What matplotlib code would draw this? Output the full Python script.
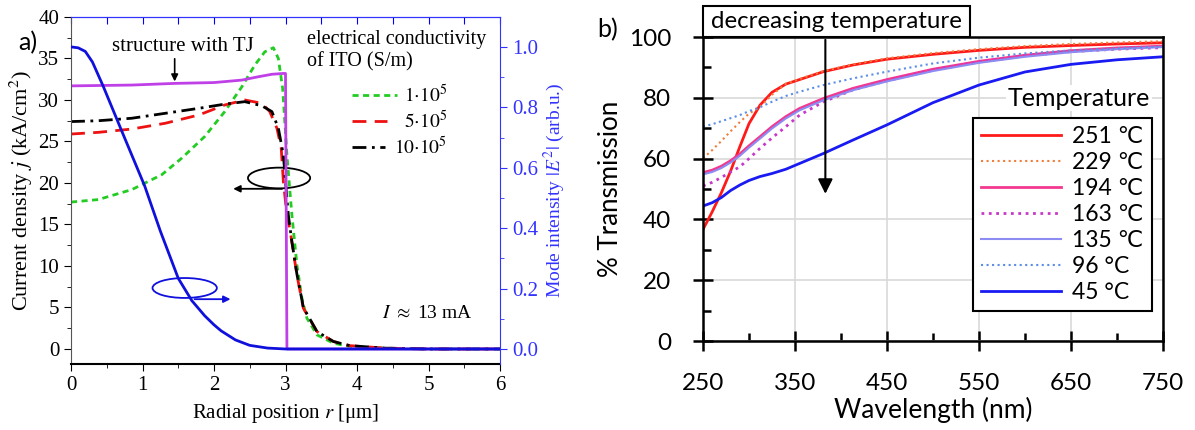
import numpy as np
import matplotlib
matplotlib.use("Agg")
import matplotlib.pyplot as plt
from matplotlib.patches import Ellipse, Rectangle

plt.rcParams['mathtext.fontset'] = 'stix'

# ---- panel a) data: current density vs radial position ----
r_green = [0, 0.38, 0.85, 1.27, 1.55, 1.87, 2.15, 2.39, 2.57, 2.71, 2.83, 2.9, 2.96,
           2.99, 3.02, 3.05, 3.09, 3.16, 3.23, 3.3, 3.44, 3.67, 3.9, 4.37, 5.0, 6.0]
j_green = [17.7, 18.0, 19.2, 21.0, 23.0, 25.6, 28.6, 31.6, 34.2, 35.8, 36.3, 35.0, 31.4,
           27.4, 23.4, 20.2, 16.1, 10.1, 6.1, 3.7, 1.7, 0.7, 0.3, 0.1, 0.0, 0.0]

r_red = [0, 0.38, 0.85, 1.32, 1.79, 2.15, 2.43, 2.67, 2.78, 2.88, 2.94, 2.97, 3.02,
         3.06, 3.16, 3.25, 3.44, 3.67, 3.9, 4.4, 5.0, 6.0]
j_red = [25.9, 26.1, 26.5, 27.2, 28.2, 29.4, 30.0, 29.6, 28.6, 26.6, 24.2, 20.2, 16.1,
         14.5, 8.9, 4.9, 2.1, 0.9, 0.4, 0.1, 0.0, 0.0]

r_black = [0, 0.38, 0.85, 1.32, 1.79, 2.15, 2.43, 2.67, 2.81, 2.9, 2.97, 3.0, 3.04,
           3.09, 3.16, 3.25, 3.44, 3.67, 3.9, 4.4, 5.0, 6.0]
j_black = [27.4, 27.5, 27.8, 28.4, 29.0, 29.5, 29.8, 29.3, 28.6, 26.6, 23.4, 20.2, 16.1,
           12.9, 9.0, 5.0, 2.1, 0.9, 0.4, 0.1, 0.0, 0.0]

r_tj = [0, 0.85, 1.45, 2.0, 2.39, 2.62, 2.81, 2.97, 3.0, 3.02, 6.0]
j_tj = [31.7, 31.8, 32.0, 32.1, 32.4, 32.8, 33.1, 33.2, 33.2, 0.0, 0.0]

r_mode = [0, 0.1, 0.2, 0.3, 0.45, 0.66, 0.73, 1.03, 1.25, 1.5, 1.69, 1.87, 2.0, 2.1,
          2.3, 2.5, 2.75, 3.0, 6.0]
mode = [1.0, 0.997, 0.985, 0.95, 0.87, 0.75, 0.71, 0.54, 0.39, 0.234, 0.16, 0.11, 0.08,
        0.06, 0.03, 0.012, 0.003, 0.0, 0.0]

cond_labels = [r'$1{\cdot}10^5$', r'$5{\cdot}10^5$', r'$10{\cdot}10^5$']

# ---- panel b) data: transmission vs wavelength ----
wl = [250, 260, 270, 280, 290, 300, 312, 325, 340, 355, 381, 413, 450, 500, 550, 600,
      650, 700, 750]
t251 = [36.7, 42.5, 48.8, 55.9, 63.9, 71.5, 77.6, 81.8, 84.5, 86.0, 88.6, 90.8, 92.7,
        94.3, 95.6, 96.6, 97.2, 97.7, 98.1]
t229 = [60.1, 62.8, 65.8, 69.0, 72.0, 74.8, 77.0, 81.0, 84.6, 86.2, 88.8, 91.0, 93.0,
        94.7, 96.0, 97.0, 97.7, 98.2, 98.6]
t194 = [55.4, 56.2, 57.5, 59.3, 61.5, 64.2, 67.2, 70.5, 73.8, 76.5, 79.8, 83.1, 86.0,
        89.4, 92.0, 94.0, 95.5, 96.4, 97.0]
t163 = [51.0, 52.2, 53.8, 55.6, 57.3, 60.0, 63.4, 66.8, 70.5, 74.3, 78.7, 82.6, 85.6,
        89.1, 91.8, 93.8, 95.2, 96.0, 96.5]
t135 = [54.8, 55.6, 56.9, 58.7, 60.9, 63.6, 66.6, 69.9, 73.2, 75.9, 79.2, 82.5, 85.4,
        88.8, 91.5, 93.5, 95.0, 96.0, 96.7]
t96 = [70.5, 71.3, 72.3, 73.3, 74.3, 75.6, 76.9, 78.7, 80.6, 82.0, 84.2, 86.4, 88.6,
       91.3, 93.2, 94.6, 95.6, 96.3, 96.9]
t45 = [44.4, 45.5, 47.2, 49.5, 51.3, 52.8, 54.1, 55.1, 56.5, 58.4, 61.7, 66.1, 71.1,
       78.4, 84.2, 88.5, 91.0, 92.5, 93.5]
temp_labels = ['251 \u2103', '229 \u2103', '194 \u2103', '163 \u2103', '135 \u2103',
               '96 \u00b0C', '45 \u00b0C']

fig = plt.figure(figsize=(11.95, 4.3), dpi=100)

# ================= panel a =================
serif = 'Liberation Serif'
green_ls = (0, (2.2, 1.6))
red_ls = (0, (5, 3))
black_ls = (0, (5, 2, 1, 2))

ax = fig.add_axes([71 / 1195, 1 - 364 / 430, 429 / 1195, 347 / 430])
ax.plot(r_green, j_green, color='#22cc22', lw=2, ls=green_ls)
ax.plot(r_red, j_red, color='#ee1111', lw=2, ls=red_ls)
ax.plot(r_black, j_black, color='black', lw=2, ls=black_ls)
ax.plot(r_tj, j_tj, color='#c040e8', lw=2)
ax.set_xlim(0, 6)
ax.set_ylim(-1.81, 40)
ax.set_xticks(range(7))
ax.set_xticks(np.arange(0, 6.01, 0.5), minor=True)
ax.set_yticks(range(0, 41, 5))
ax.set_yticks(np.arange(0, 40.1, 2.5), minor=True)
ax.tick_params(which='both', direction='out', top=False, right=False,
               labelsize=15, labelfontfamily=serif)
ax.tick_params(which='major', length=5)
ax.tick_params(which='minor', length=3)
ax.spines['left'].set_color('#555555')
ax.spines['bottom'].set_linewidth(1.5)
ax.spines['top'].set_visible(False)
ax.spines['right'].set_visible(False)
ax.set_xlabel('Radial position $r$ [\u03bcm]', fontsize=15, family=serif, labelpad=5)
ax.set_ylabel('Current density $j$ (kA/cm$^2$)', fontsize=16, family=serif, labelpad=2)

top = ax.secondary_xaxis('top')
top.set_xticks(np.arange(0, 6.01, 0.5))
top.tick_params(direction='in', length=5, colors='blue', labeltop=False)
top.spines['top'].set_color('blue')

ax2 = ax.twinx()
ax2.plot(r_mode, mode, color='#1010dd', lw=2)
ax2.set_ylim(-0.0497, 1.099)
ax2.set_yticks(np.arange(0, 1.01, 0.2))
ax2.set_yticks(np.arange(0, 1.01, 0.1), minor=True)
ax2.yaxis.set_major_formatter(matplotlib.ticker.FormatStrFormatter('%.1f'))
ax2.tick_params(which='both', colors='#3333ff', labelsize=15, labelfontfamily=serif)
ax2.tick_params(which='major', length=5)
ax2.tick_params(which='minor', length=3)
for s in ['right', 'top']:
    ax2.spines[s].set_color('#3333ff')
ax2.spines['left'].set_visible(False)
ax2.spines['bottom'].set_visible(False)
ax2.set_ylabel('Mode intensity $|E^2|$ (arb.u.)', color='#3333ff', fontsize=14,
               family=serif, labelpad=3)

# annotations
ax.text(1.57, 36.4, 'structure with TJ', fontsize=15, family=serif, ha='center',
        va='center')
ax.annotate('', xy=(1.45, 31.9), xytext=(1.45, 35.3),
            arrowprops=dict(arrowstyle='-|>', color='black', lw=1.2,
                            mutation_scale=10))
ax.add_patch(Ellipse((2.91, 20.6), 0.87, 2.5, fill=False, ec='black', lw=1.3))
ax.annotate('', xy=(2.23, 19.3), xytext=(2.99, 19.3),
            arrowprops=dict(arrowstyle='-|>', color='black', lw=1.3,
                            mutation_scale=10))
ax.add_patch(Ellipse((1.59, 7.35), 0.9, 2.4, fill=False, ec='#1010dd', lw=1.3))
ax.annotate('', xy=(2.27, 6.0), xytext=(1.69, 6.0),
            arrowprops=dict(arrowstyle='-|>', color='#1010dd', lw=1.3,
                            mutation_scale=10))
ax.text(3.3, 35.9, 'electrical conductivity\nof ITO (S/m)', fontsize=14.5,
        family=serif, ha='left', va='center', linespacing=1.2)
ax.text(4.35, 4.3, r'$I\ \approx$ 13 mA', fontsize=14, family=serif, ha='left',
        va='center')

# legend for the conductivity curves (handles left, labels right-aligned)
leg_styles = [('#22cc22', green_ls, 0.760, 0.775),
              ('#ee1111', red_ls, 0.737, 0.700),
              ('black', black_ls, 0.732, 0.625)]
for (c, ls, xe, yy), lab in zip(leg_styles, cond_labels):
    ax.plot([0.655, xe], [yy, yy], color=c, lw=2, ls=ls, transform=ax.transAxes)
    ax.text(0.876, yy, lab, transform=ax.transAxes, fontsize=14, family=serif,
            ha='right', va='center')

fig.text(0.015, 0.9, 'a)', fontsize=18, family='Lato', va='center')

# ================= panel b =================
sans = ['Lato', 'DejaVu Sans']
bx = fig.add_axes([703 / 1195, 1 - 341 / 430, 460 / 1195, 304 / 430])
bx.plot(wl, t251, color='#ff1a1a', lw=2, label=temp_labels[0])
bx.plot(wl, t229, color='#f07d3a', lw=1.5, ls=':', label=temp_labels[1])
bx.plot(wl, t194, color='#f2388f', lw=2, label=temp_labels[2])
bx.plot(wl, t163, color='#c838c8', lw=2, ls=':', label=temp_labels[3])
bx.plot(wl, t135, color='#8c8cf2', lw=1.5, label=temp_labels[4])
bx.plot(wl, t96, color='#5b8ee6', lw=1.5, ls=':', label=temp_labels[5])
bx.plot(wl, t45, color='#1a1af2', lw=2, label=temp_labels[6])
bx.set_xlim(250, 750)
bx.set_ylim(0, 100)
bx.set_xticks(range(250, 751, 100))
bx.set_xticks(range(300, 751, 100), minor=True)
bx.set_yticks(range(0, 101, 20))
bx.set_yticks(range(10, 100, 20), minor=True)
bx.grid(True, which='major', color='#d9d9d9', lw=1.2)
bx.set_axisbelow(True)
for s in bx.spines.values():
    s.set_linewidth(1.8)
bx.tick_params(which='major', direction='inout', length=14, width=1.8,
               labelsize=17.5, labelfontfamily='Lato')
bx.tick_params(axis='x', which='major', pad=16)
bx.tick_params(axis='y', which='major', pad=16)
bx.tick_params(which='minor', direction='in', length=6, width=1.8)
bx.set_xlabel('Wavelength (nm)', fontsize=19, family=sans, labelpad=2)
bx.set_ylabel('% Transmission', fontsize=18.6, family=sans, labelpad=4)

bx.add_patch(Rectangle((250, 100), 290, 10.2, fill=False, ec='black', lw=1.5,
                       clip_on=False))
bx.text(395, 105.1, 'decreasing temperature', fontsize=17.3, family=sans,
        ha='center', va='center')
bx.annotate('', xy=(383, 47.5), xytext=(383, 100),
            arrowprops=dict(arrowstyle='-|>', color='black', lw=1.5,
                            mutation_scale=22))

bx.text(0.972, 0.799, 'Temperature', transform=bx.transAxes, fontsize=18,
        family=sans, ha='right', va='center',
        bbox=dict(fc='white', ec='none', pad=1))
leg = bx.legend(loc='upper right', bbox_to_anchor=(0.976, 0.734), borderaxespad=0,
                prop={'family': sans, 'size': 16.5}, handlelength=3.5,
                handletextpad=0.48, labelspacing=0.22, borderpad=0.35,
                fancybox=False, framealpha=1, edgecolor='black')
leg.get_frame().set_linewidth(1.5)

fig.text(0.5, 0.93, 'b)', fontsize=18, family='Lato', va='center')

fig.savefig('out.png', dpi=100)
